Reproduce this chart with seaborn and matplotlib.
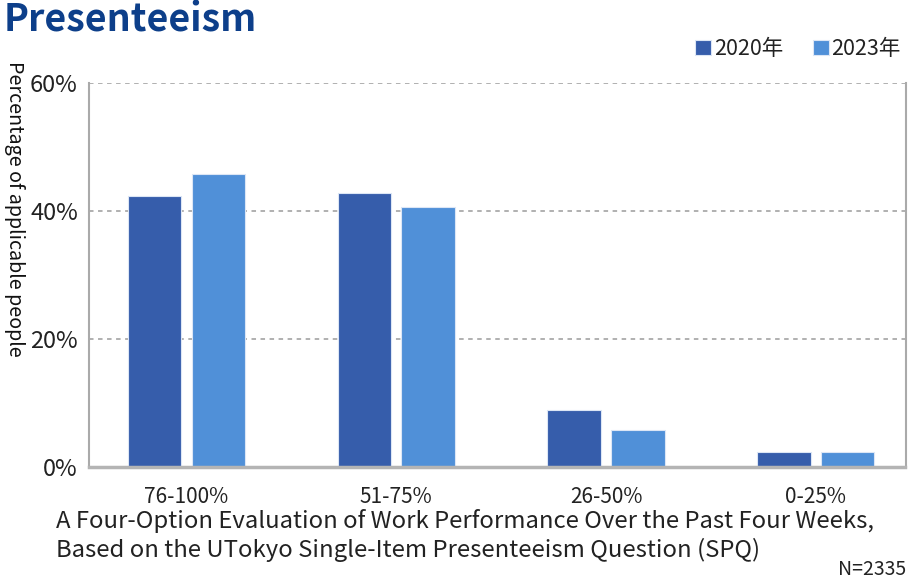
import pandas as pd
import seaborn as sns
import matplotlib.pyplot as plt

# values (percent of respondents)
categories = ["76-100%", "51-75%", "26-50%", "0-25%"]
years = ["2020年", "2023年"]
vals_2020 = [42.3, 42.8, 8.9, 2.3]
vals_2023 = [45.8, 40.6, 5.8, 2.3]
ytick_vals = [0, 20, 40, 60]

colors = ["#365dab", "#5090d8"]

df = pd.DataFrame({
    "category": categories * 2,
    "year": [years[0]] * len(categories) + [years[1]] * len(categories),
    "value": vals_2020 + vals_2023,
})

sns.set_style("white")
plt.rcParams["font.family"] = ["Noto Sans CJK JP", "DejaVu Sans"]

fig = plt.figure(figsize=(9.21, 5.82), dpi=100)
ax = fig.add_axes([0.0966, 0.1976, 0.8871, 0.6598])

sns.barplot(data=df, x="category", y="value", hue="year", palette=colors,
            width=0.606, gap=0.158, edgecolor="#dce6f5", linewidth=0.8,
            saturation=1, ax=ax, legend=True)

ax.set_ylim(0, 60)
ax.set_xlim(-0.465, 3.43)
ax.set_yticks(ytick_vals)
ax.set_yticklabels([f"{v}%" for v in ytick_vals], fontsize=17, color="#222222")
ax.tick_params(axis="x", labelsize=15, pad=14, length=0, colors="#222222")
ax.tick_params(axis="y", length=0, pad=8)
ax.set_xlabel("")
ax.set_ylabel("")

for v in ytick_vals[1:]:
    ax.axhline(v, color="#aaaaaa", linestyle=(0, (2.5, 2.5)), linewidth=1.3, zorder=0)

for side in ["left", "right"]:
    ax.spines[side].set_color("#aaaaaa")
    ax.spines[side].set_linewidth(1.5)
ax.spines["top"].set_visible(False)
ax.spines["bottom"].set_color("#b4b4b4")
ax.spines["bottom"].set_linewidth(2.5)
ax.spines["bottom"].set_linestyle((0, (1, 1)))

# legend at top right
handles, labels = ax.get_legend_handles_labels()
ax.get_legend().remove()
fig.legend(handles, labels, loc="upper right", bbox_to_anchor=(0.999, 0.968),
           ncol=2, frameon=False, fontsize=15.5, handlelength=0.75, handleheight=0.75,
           handletextpad=0.1, columnspacing=1.4, labelcolor="#222222")

fig.text(0.004, 0.966, "Presenteeism", fontsize=27, fontweight="bold",
         color="#0d3f8a", ha="left", va="center")
fig.text(0.004, 0.895, "Percentage of applicable people", rotation=-90,
         fontsize=14.2, ha="left", va="top", color="#111111")
fig.text(0.061, 0.08, "A Four-Option Evaluation of Work Performance Over the Past Four Weeks,\n"
         "Based on the UTokyo Single-Item Presenteeism Question (SPQ)",
         fontsize=17.2, ha="left", va="center", linespacing=1.25, color="#222222")
fig.text(0.984, 0.022, "N=2335", fontsize=14, ha="right", va="center", color="#222222")

fig.savefig("out.png", dpi=100)
